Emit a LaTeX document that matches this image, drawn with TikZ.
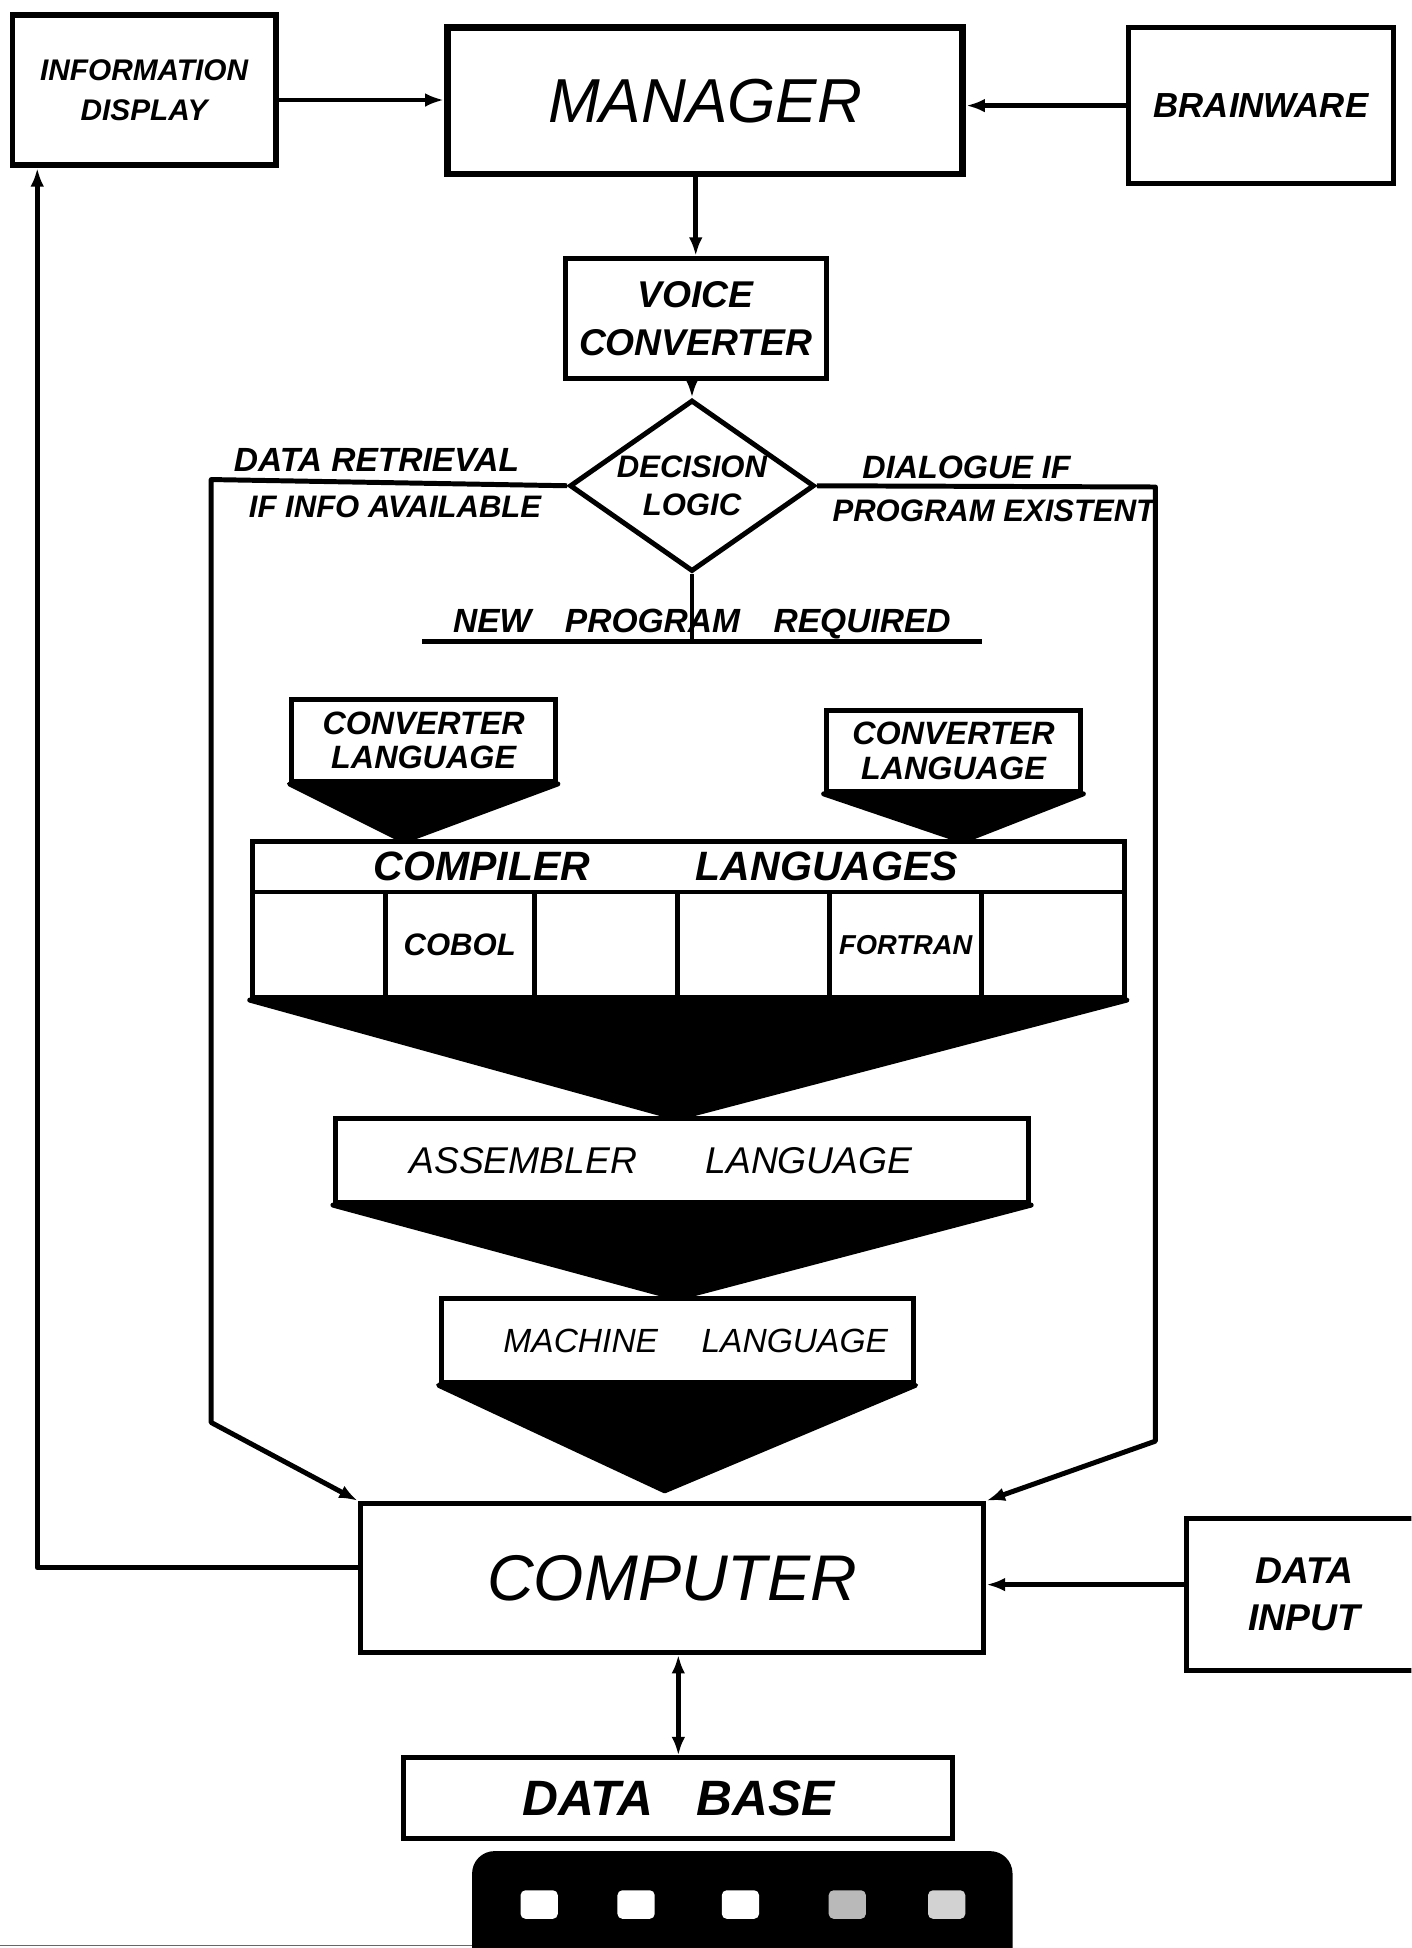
\documentclass[tikz,border=0pt]{standalone}
\usepackage{fontspec}
\setmainfont{Liberation Sans}
\usetikzlibrary{shapes.geometric,arrows.meta}
\begin{document}
\begin{tikzpicture}[x=1pt,y=-1pt,
  hb/.style 2 args={font=\bfseries\itshape\fontsize{#1}{#2}\selectfont},
  hi/.style 2 args={font=\itshape\fontsize{#1}{#2}\selectfont},
  box/.style={draw, line width=4pt, inner sep=0pt, align=center, fill=white},
  lbl/.style={inner sep=0pt, align=center},
  conn/.style={draw, line width=4pt, line join=round},
  arr/.style={draw, line width=4pt, line join=round, -{Latex[length=15pt,width=11pt]}},
  dbl/.style={draw, line width=4pt, line join=round, {Latex[length=15pt,width=11pt]}-{Latex[length=15pt,width=11pt]}},
  funnel/.style={fill=black, draw=black, line width=4pt, line join=round},
  slot/.style={fill=white, rounded corners=4pt, minimum width=30pt, minimum height=23pt, inner sep=0pt}
]
\useasboundingbox (0,0) rectangle (1136,1568);
\clip (0,0) rectangle (1136,1568);
\fill[white] (0,0) rectangle (1136,1568);

% top row
\node[box, line width=4.5pt, minimum width=212pt, minimum height=121pt, hb={24}{32}] (info) at (116,72.5) {INFORMATION\\DISPLAY};
\node[box, line width=5.5pt, minimum width=415pt, minimum height=118pt, hi={50}{55}] (manager) at (567.5,81) {MANAGER};
\node[box, minimum width=214pt, minimum height=126pt, hb={28}{30}] (brain) at (1015,85) {BRAINWARE};

\node[box, minimum width=210pt, minimum height=97pt, hb={30}{38}] (voice) at (560,256.5) {VOICE\\CONVERTER};
\node[draw, diamond, line width=4pt, minimum width=197pt, minimum height=138pt, aspect=1.43, inner sep=0pt, align=center, fill=white, hb={25}{30}] (dec) at (557,391) {DECISION\\LOGIC};

% branch labels
\node[lbl, hb={27}{30}] (dret) at (303,370) {DATA RETRIEVAL};
\node[lbl, hb={25}{28}] (ifinfo) at (318,408) {IF INFO AVAILABLE};
\node[lbl, hb={26}{28}] (dial) at (778,376) {DIALOGUE IF};
\node[lbl, hb={25}{28}] (progex) at (800,411) {PROGRAM EXISTENT};
\node[lbl, hb={27}{30}, minimum width=450pt, anchor=base] (newprog) at (565,509) {NEW\quad PROGRAM\quad REQUIRED};
\coordinate (ul) at ([yshift=-7pt]newprog.base);

% converter languages
\node[box, minimum width=212pt, minimum height=66pt, hb={26}{28}] (conv1) at (341,596) {CONVERTER\\LANGUAGE};
\node[box, minimum width=205pt, minimum height=65pt, hb={26}{28}] (conv2) at (767.5,604.5) {CONVERTER\\LANGUAGE};
\coordinate (apx1) at (325,677);
\coordinate (apx2) at (775,677);

% compiler languages
\node[box, minimum width=702pt, minimum height=41pt, hb={33}{36}] (cmpl) at (554,697.5) {COMPILER\hspace{85pt}LANGUAGES\hspace{36pt}};
\node[box, minimum width=107pt, minimum height=85pt] (cell1) at (256.5,760.5) {};
\node[box, minimum width=120pt, minimum height=85pt, hb={25}{28}] (cell2) at (370,760.5) {COBOL};
\node[box, minimum width=115pt, minimum height=85pt] (cell3) at (487.5,760.5) {};
\node[box, minimum width=123pt, minimum height=85pt] (cell4) at (606.5,760.5) {};
\node[box, minimum width=122pt, minimum height=85pt, hb={22}{26}] (cell5) at (729,760.5) {FORTRAN};
\node[box, minimum width=115pt, minimum height=85pt] (cell6) at (847.5,760.5) {};
\coordinate (apxC) at (545,900);

% assembler / machine
\node[box, minimum width=558pt, minimum height=68pt, hi={30}{34}] (asm) at (549,934) {ASSEMBLER\hspace{55pt}LANGUAGE\hspace{34pt}};
\coordinate (apxA) at (545,1045);
\node[box, minimum width=380pt, minimum height=68pt, hi={27}{30}] (mach) at (545,1079) {\hspace{30pt}MACHINE\hspace{35pt}LANGUAGE};
\coordinate (apxM) at (535,1200);

% funnels
\filldraw[funnel] (conv1.south west) -- (conv1.south east) -- (apx1) -- cycle;
\filldraw[funnel] (conv2.south west) -- (conv2.south east) -- (apx2) -- cycle;
\filldraw[funnel] (cell1.south west) -- (cell6.south east) -- (apxC) -- cycle;
\filldraw[funnel] (asm.south west) -- (asm.south east) -- (apxA) -- cycle;
\filldraw[funnel] (mach.south west) -- (mach.south east) -- (apxM) -- cycle;

% computer and peripherals
\node[box, minimum width=502pt, minimum height=120pt, hi={52}{56}] (computer) at (541,1270) {COMPUTER};
\node[box, minimum width=190pt, minimum height=123pt, hb={30}{38}] (datain) at (1050,1283.5) {DATA\\INPUT};
\node[box, minimum width=442pt, minimum height=65pt, hb={40}{44}] (db) at (546,1447.5) {DATA\hspace{35pt}BASE};

% tape
\node[fill=black, rounded corners=18pt, minimum width=435pt, minimum height=100pt, inner sep=0pt] (tape) at (597.5,1540) {};
\node[slot] (s1) at (434,1533) {};
\node[slot] (s2) at (512,1533) {};
\node[slot] (s3) at (596,1533) {};
\node[slot, fill=gray!55] (s4) at (682,1533) {};
\node[slot, fill=gray!35] (s5) at (762,1533) {};
\coordinate (bl) at (0,1566);
\draw[line width=1.2pt, black!60] (bl) -- (bl -| tape.west);

% connectors
\path[arr] ([yshift=-8pt]info.east) -- ([yshift=-8pt]info.east -| manager.west);
\path[arr] (brain.west) -- (brain.west -| manager.east);
\path[arr] (voice.north |- manager.south) -- (voice.north);
\path[arr] (voice.south -| dec.north) -- (dec.north);

\coordinate (eTL) at (170,386);
\coordinate (eBL) at (170,1145);
\coordinate (eTR) at (930,392);
\coordinate (eBR) at (930,1160);
\path[arr] (dec.west) -- (eTL) -- (eBL) -- (computer.north west);
\path[arr] (dec.east) -- (eTR) -- (eBR) -- (computer.north east);
\path[conn] (dec.south) -- (dec.south |- ul);
\path[conn] (ul -| newprog.west) -- (ul -| newprog.east);

\coordinate (fb) at (30,0);
\path[arr] ([yshift=8pt]computer.west) -- ([yshift=8pt]computer.west -| fb) -- (fb |- info.south);
\path[arr] ([yshift=8pt]datain.west) -- ([yshift=8pt]datain.west -| computer.east);
\path[dbl] (db.north |- computer.south) -- (db.north);
\end{tikzpicture}
\end{document}
